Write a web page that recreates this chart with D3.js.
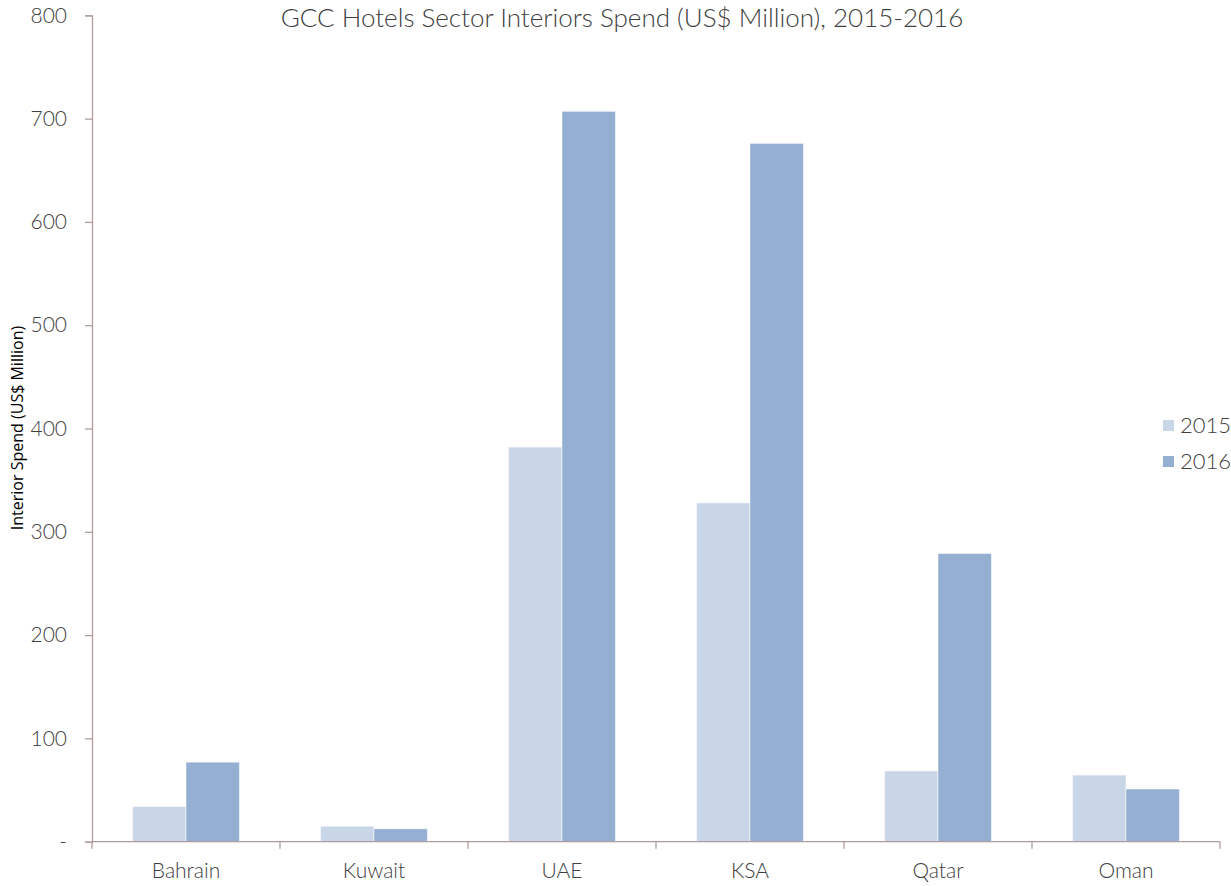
<!DOCTYPE html>
<html>
<head>
<meta charset="utf-8">
<script src="https://cdn.jsdelivr.net/npm/d3@7"></script>
<style>
  body { margin: 0; background: #fff; }
  svg { display: block; }
</style>
</head>
<body>
<svg id="chart" width="1231" height="886"></svg>
<script>
// GCC hotel interiors spend by country, two years side by side
const countries = ["Bahrain", "Kuwait", "UAE", "KSA", "Qatar", "Oman"];
const years = ["2015", "2016"];
const spend2015 = [34, 15, 382, 328, 68.5, 64.5];
const spend2016 = [77, 12.5, 707, 676, 279, 51];
const yTicks = [0, 100, 200, 300, 400, 500, 600, 700, 800];
const yearColors = ["#C9D6E7", "#95AFD3"];

const rows = countries.map((c, i) => ({ country: c, values: [spend2015[i], spend2016[i]] }));

const svg = d3.select("#chart");
const plotLeft = 92, plotRight = 1220, plotTop = 15.3, plotBottom = 841.7;
const axisColor = "#B09C9C";

const x0 = d3.scaleBand().domain(countries).range([plotLeft, plotRight]).padding(0);
const x1 = d3.scaleBand().domain(years).range([0, x0.bandwidth()])
  .paddingInner(0).paddingOuter(0.76);
const y = d3.scaleLinear().domain([0, 800]).range([plotBottom, plotTop]);

// title
svg.append("text")
  .attr("x", 622).attr("y", 27)
  .attr("text-anchor", "middle")
  .style("font-family", "Lato").style("font-weight", 300)
  .style("font-size", "26px").style("fill", "#404040")
  .text("GCC Hotels Sector Interiors Spend (US$ Million), 2015-2016");

// bars
const groups = svg.append("g").selectAll("g").data(rows).join("g")
  .attr("transform", d => `translate(${x0(d.country)},0)`);
groups.selectAll("rect")
  .data(d => d.values.map((v, i) => ({ year: years[i], v, i })))
  .join("rect")
  .attr("x", d => x1(d.year))
  .attr("width", x1.bandwidth())
  .attr("y", d => y(d.v))
  .attr("height", d => plotBottom - y(d.v))
  .attr("fill", d => yearColors[d.i])
  .attr("stroke", "#ffffff").attr("stroke-opacity", 0.5).attr("stroke-width", 1);

// y axis
const yAxis = d3.axisLeft(y).tickValues(yTicks).tickSize(7).tickPadding(18)
  .tickFormat(d => d === 0 ? "-" : d3.format("d")(d));
const gy = svg.append("g").attr("transform", `translate(${plotLeft},0)`).call(yAxis);
gy.select(".domain").attr("stroke", axisColor).attr("stroke-width", 1.3);
gy.selectAll(".tick line").attr("stroke", axisColor).attr("stroke-width", 1.3);
gy.selectAll(".tick text")
  .style("font-family", "Lato").style("font-weight", 300)
  .style("font-size", "21px").style("fill", "#404040");

// x axis with ticks at category boundaries
const gx = svg.append("g").attr("transform", `translate(0,${plotBottom})`);
gx.append("line").attr("x1", plotLeft).attr("x2", plotRight).attr("y1", 0).attr("y2", 0)
  .attr("stroke", axisColor).attr("stroke-width", 1.3);
const bounds = countries.map(c => x0(c)).concat([x0(countries[countries.length - 1]) + x0.bandwidth()]);
gx.selectAll("line.b").data(bounds).join("line").attr("class", "b")
  .attr("x1", d => d).attr("x2", d => d).attr("y1", 0).attr("y2", 7)
  .attr("stroke", axisColor).attr("stroke-width", 1.3);
gx.selectAll("text").data(countries).join("text")
  .attr("x", d => x0(d) + x0.bandwidth() / 2).attr("y", 36)
  .attr("text-anchor", "middle")
  .style("font-family", "Lato").style("font-weight", 300)
  .style("font-size", "21px").style("fill", "#404040")
  .text(d => d);

// y axis title
svg.append("text")
  .attr("transform", "translate(23,428) rotate(-90)")
  .attr("text-anchor", "middle")
  .style("font-family", "Open Sans").style("font-size", "16px").style("fill", "#000")
  .text("Interior Spend (US$ Million)");

// legend
const legend = svg.append("g").selectAll("g").data(years).join("g")
  .attr("transform", (d, i) => `translate(1163,${420 + i * 36})`);
legend.append("rect").attr("width", 11).attr("height", 11)
  .attr("fill", (d, i) => yearColors[i]);
legend.append("text").attr("x", 17).attr("y", 13)
  .style("font-family", "Lato").style("font-weight", 300)
  .style("font-size", "22px").style("fill", "#404040")
  .text(d => d);
</script>
</body>
</html>
